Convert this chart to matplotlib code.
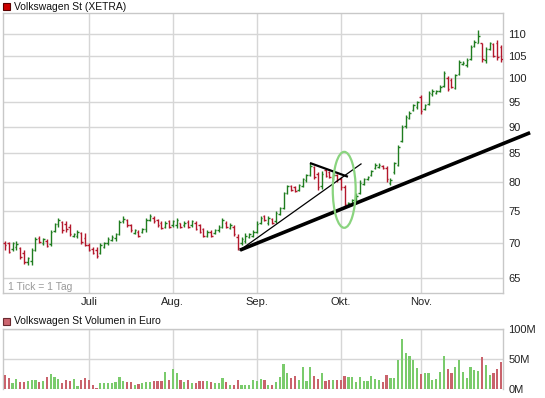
import matplotlib
matplotlib.use('Agg')
import matplotlib.pyplot as plt
import numpy as np
import pandas as pd
from matplotlib.patches import Ellipse, Rectangle
from matplotlib.ticker import NullLocator

plt.rcParams['font.family'] = ['Liberation Sans', 'DejaVu Sans']

# ---------------- data ----------------
dates = pd.bdate_range('2010-06-01', '2010-11-30')
month_labels = ['Juli', 'Aug.', 'Sep.', 'Okt.', 'Nov.']

opens = [70.0, 70.0, 69.2, 69.4, 69.3, 68.6, 67.2, 67.4, 69.0, 70.9,
         70.1, 70.4, 69.9, 71.9, 73.0, 73.3, 73.0, 72.6, 71.1, 71.2,
         71.6, 70.8, 69.8, 69.2, 69.0, 68.6, 69.5, 70.0, 70.5, 70.8,
         71.4, 73.4, 73.6, 72.8, 71.6, 71.8, 71.7, 72.2, 73.6, 74.0,
         73.6, 73.2, 72.6, 73.4, 72.8, 72.8, 73.1, 72.8, 73.3, 72.8,
         73.2, 72.8, 72.2, 71.2, 71.8, 71.6, 72.0, 72.6, 73.2, 72.4,
         72.6, 71.0, 70.0, 70.4, 71.0, 71.2, 71.8, 73.2, 74.2, 73.2,
         73.8, 73.4, 74.6, 75.6, 78.0, 79.2, 79.0, 78.6, 79.2, 80.2,
         81.2, 82.6, 81.4, 79.2, 82.0, 81.6, 80.6, 81.2, 80.4, 79.0,
         76.0, 76.2, 76.8, 78.0, 79.6, 80.4, 81.2, 82.4, 82.6, 82.8,
         82.4, 79.8, 81.6, 83.0, 87.4, 90.2, 91.8, 93.4, 94.0, 96.0,
         93.6, 94.6, 96.6, 96.8, 97.2, 98.4, 100.0, 99.6, 98.0, 100.8,
         103.0, 102.8, 104.2, 107.2, 108.0, 107.8, 104.0, 106.6, 107.6, 108.0,
         107.0]
highs = [70.3, 70.2, 70.2, 70.3, 69.5, 69.0, 68.0, 69.3, 71.0, 71.2,
         70.8, 70.6, 72.0, 73.2, 74.0, 73.4, 73.4, 73.0, 71.6, 72.0,
         71.8, 71.6, 70.0, 69.4, 69.4, 70.1, 70.2, 71.0, 71.3, 71.6,
         73.6, 74.2, 73.8, 73.0, 72.2, 72.0, 72.4, 74.0, 74.6, 74.2,
         73.8, 73.4, 73.4, 73.6, 73.6, 73.9, 73.2, 73.4, 73.6, 73.6,
         73.4, 73.0, 72.4, 72.0, 72.0, 72.2, 72.8, 74.0, 73.4, 73.2,
         72.8, 71.4, 71.0, 71.6, 71.6, 72.0, 73.4, 74.2, 74.4, 74.2,
         74.0, 75.0, 75.8, 78.2, 79.4, 79.4, 79.2, 79.6, 80.6, 81.4,
         83.2, 82.8, 81.6, 81.8, 82.4, 81.8, 81.6, 81.4, 80.8, 79.4,
         76.6, 77.0, 78.0, 80.2, 80.6, 81.0, 82.0, 83.2, 83.2, 83.0,
         82.8, 80.6, 83.4, 86.6, 90.4, 92.4, 93.2, 94.6, 95.2, 96.4,
         94.6, 97.2, 97.6, 97.4, 98.6, 101.6, 100.4, 100.0, 101.0, 104.0,
         103.8, 104.4, 107.4, 108.6, 111.0, 108.0, 107.0, 108.2, 108.0, 108.6,
         107.4]
lows = [69.0, 68.5, 68.8, 69.0, 67.7, 66.9, 66.8, 66.8, 68.8, 70.0,
        69.8, 69.4, 69.6, 71.7, 72.6, 71.6, 71.8, 71.2, 71.0, 70.9,
        69.9, 69.6, 68.8, 68.4, 67.9, 68.4, 69.3, 69.7, 70.3, 70.3,
        71.3, 73.2, 72.5, 71.8, 71.4, 71.0, 71.6, 71.8, 73.4, 73.2,
        72.6, 72.2, 72.4, 72.3, 72.6, 72.4, 72.4, 72.6, 72.4, 72.6,
        72.0, 71.6, 71.0, 71.0, 71.0, 71.4, 71.8, 72.4, 72.4, 72.2,
        71.2, 69.0, 69.8, 70.0, 70.8, 71.0, 71.6, 73.0, 73.4, 72.8,
        73.0, 73.2, 74.4, 75.4, 77.8, 78.4, 78.2, 78.4, 79.0, 80.0,
        81.0, 80.4, 78.6, 78.8, 80.8, 80.6, 80.2, 80.0, 78.6, 75.8,
        75.8, 76.0, 76.6, 77.8, 79.4, 80.2, 81.0, 82.2, 82.4, 82.2,
        80.0, 79.4, 81.4, 82.8, 87.2, 89.8, 91.6, 93.2, 93.6, 92.6,
        93.4, 94.4, 96.2, 96.6, 97.0, 98.2, 97.2, 97.8, 97.6, 100.6,
        102.8, 102.4, 104.0, 107.0, 107.8, 103.6, 103.4, 106.2, 104.6, 104.0,
        103.6]
closes = [69.8, 68.7, 70.0, 69.9, 68.0, 67.3, 67.8, 69.0, 70.7, 70.2,
          70.6, 69.6, 71.8, 73.0, 73.7, 72.0, 72.2, 71.4, 71.5, 71.8,
          70.2, 69.8, 69.0, 68.6, 68.2, 69.8, 70.0, 70.7, 71.0, 71.4,
          73.3, 73.8, 72.8, 72.0, 72.0, 71.2, 72.2, 73.6, 74.2, 73.4,
          72.8, 72.4, 73.2, 72.6, 73.4, 73.6, 72.6, 73.2, 72.6, 73.4,
          72.2, 71.8, 71.2, 71.8, 71.2, 72.0, 72.6, 73.6, 72.6, 72.9,
          71.4, 69.3, 70.6, 71.2, 71.4, 71.8, 73.0, 74.0, 73.6, 74.0,
          73.2, 74.8, 75.6, 78.0, 79.2, 78.6, 78.4, 79.4, 80.4, 81.2,
          82.8, 80.8, 79.0, 81.4, 81.0, 80.8, 81.2, 80.4, 79.0, 76.2,
          76.4, 76.8, 77.6, 79.8, 80.4, 80.8, 81.8, 83.0, 83.0, 82.4,
          80.4, 80.2, 83.2, 86.2, 90.0, 92.0, 92.8, 94.4, 95.0, 93.2,
          94.4, 96.8, 97.2, 97.2, 98.2, 101.2, 97.6, 98.2, 100.6, 103.6,
          103.4, 104.0, 107.0, 108.2, 109.6, 104.2, 106.6, 107.8, 105.0, 104.6,
          104.2]
volumes_m = [24, 19, 10, 17, 13, 13, 14, 16, 16, 13, 14, 21, 26, 21, 18, 11, 16, 14, 17, 6,
             16, 19, 16, 7, 3, 10, 10, 10, 10, 13, 21, 14, 13, 12, 8, 9, 10, 13, 13, 14,
             14, 14, 29, 16, 34, 27, 16, 13, 16, 10, 11, 14, 14, 14, 12, 10, 10, 19, 12, 7,
             8, 16, 8, 7, 7, 16,
             14, 18, 16, 8, 8, 12, 20, 42, 28, 19, 22, 16, 37, 14, 37, 22, 17, 27, 14, 16,
             16, 15, 16, 22, 20, 20, 12, 20, 14, 14, 22, 17, 16, 13, 24, 19, 19, 49, 84, 60,
             56, 49, 36, 25, 27, 27, 16, 17, 29, 56, 34, 27, 37, 49, 29, 19, 37, 33, 31, 54,
             41, 24, 28, 34, 46]

price_ticks = [65, 70, 75, 80, 85, 90, 95, 100, 105, 110]
volume_ticks = [0, 50, 100]
volume_tick_labels = ['0M', '50M', '100M']

# drawn annotations (bar index, price)
support_line = ([61.6, 137.6], [69.0, 88.9])
fan_line = ([61.6, 93.3], [69.0, 83.1])
resistance_line = ([80.2, 89.6], [83.2, 80.9])
ellipse_box = ([85.9, 91.9], [72.4, 85.3])

# ---------------- styling ----------------
GRID = '#d6d6d6'
SPINE = '#c8c8c8'
UP, DOWN = '#1f7d1f', '#b3172b'
VUP, VDOWN = '#7acb6c', '#c9636c'

W, H = 545, 398
fig = plt.figure(figsize=(W / 100, H / 100), dpi=100)


def box(l, t, r, b):
    return [l / W, 1 - b / H, (r - l) / W, (b - t) / H]


ax = fig.add_axes(box(3, 13, 503, 293))
axv = fig.add_axes(box(3, 329.3, 503, 389.3))

x = np.arange(len(closes))
o, h, l, c = map(np.array, (opens, highs, lows, closes))
up = c >= o
cols = np.where(up, UP, DOWN)
vcols = np.where(up, VUP, VDOWN)
month_starts = [i for i in range(1, len(dates)) if dates[i].month != dates[i - 1].month]

# price panel
ax.set_yscale('log')
ax.set_xlim(-0.5, len(x) - 0.5)
ax.set_ylim(62.9, 115.1)
ax.vlines(x, l, h, colors=cols, lw=1.0, zorder=3)
ax.hlines(o, x - 0.4, x, colors=cols, lw=1.0, zorder=3)
ax.hlines(c, x, x + 0.4, colors=cols, lw=1.0, zorder=3)

ax.yaxis.tick_right()
ax.set_yticks(price_ticks)
ax.set_yticklabels([str(t) for t in price_ticks])
ax.yaxis.set_minor_locator(NullLocator())
ax.set_xticks(month_starts)
ax.set_xticklabels(month_labels)
ax.tick_params(axis='both', length=0, labelsize=8, colors='#222222')
ax.tick_params(axis='y', pad=4)
ax.tick_params(axis='x', pad=3)
ax.grid(True, color=GRID, lw=1.0, zorder=0)
for s in ax.spines.values():
    s.set_color(SPINE)
    s.set_linewidth(1.0)

ax.plot(*support_line, color='black', lw=2.6, solid_capstyle='butt', clip_on=False, zorder=5)
ax.plot(*fan_line, color='black', lw=0.9, zorder=5)
ax.plot(*resistance_line, color='black', lw=1.6, zorder=5)

# ellipse (defined by data bounding box, drawn in axes coordinates)
to_axes = ax.transAxes.inverted()
p0 = to_axes.transform(ax.transData.transform((ellipse_box[0][0], ellipse_box[1][0])))
p1 = to_axes.transform(ax.transData.transform((ellipse_box[0][1], ellipse_box[1][1])))
ell = Ellipse(((p0[0] + p1[0]) / 2, (p0[1] + p1[1]) / 2), abs(p1[0] - p0[0]), abs(p1[1] - p0[1]),
              transform=ax.transAxes, fill=False, edgecolor='#8ad47f', lw=1.6, zorder=6)
ax.add_patch(ell)

# volume panel
axv.bar(x, volumes_m, width=0.58, color=vcols, zorder=3)
axv.set_xlim(-0.5, len(x) - 0.5)
axv.set_ylim(0, 100)
axv.yaxis.tick_right()
axv.set_yticks(volume_ticks)
axv.set_yticklabels(volume_tick_labels)
axv.set_xticks(month_starts)
axv.set_xticklabels([])
axv.tick_params(axis='both', length=0, labelsize=8, colors='#222222')
axv.tick_params(axis='y', pad=4)
axv.grid(True, color=GRID, lw=1.0, zorder=0)
for s in axv.spines.values():
    s.set_color(SPINE)
    s.set_linewidth(1.0)
axv.spines['bottom'].set_visible(False)

# headers
fig.add_artist(Rectangle((3 / W, 1 - 10 / H), 7 / W, 7 / H, transform=fig.transFigure,
                         facecolor='#cc0000', edgecolor='#5a0000', lw=0.8))
fig.text(14 / W, 1 - 6.5 / H, 'Volkswagen St (XETRA)', fontsize=7.5, va='center', ha='left', color='#111111')
fig.add_artist(Rectangle((3 / W, 1 - 324.5 / H), 7 / W, 7 / H, transform=fig.transFigure,
                         facecolor='#cc6670', edgecolor='#6a2a30', lw=0.8))
fig.text(14 / W, 1 - 321 / H, 'Volkswagen St Volumen in Euro', fontsize=7.5, va='center', ha='left', color='#111111')
fig.text(8 / W, 1 - 287 / H, '1 Tick = 1 Tag', fontsize=7.5, va='center', ha='left', color='#9a9a9a')

fig.savefig('out.png', dpi=100)
